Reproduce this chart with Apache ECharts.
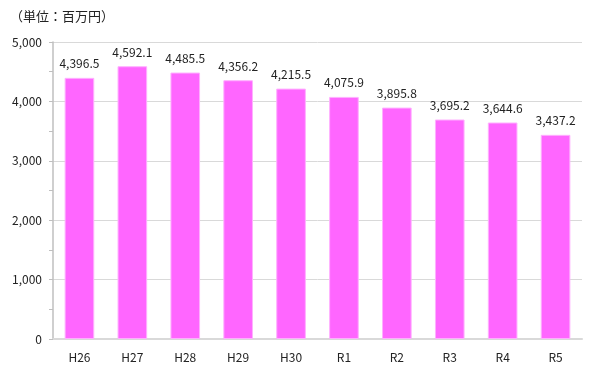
<!DOCTYPE html>
<html><head><meta charset="utf-8">
<script src="https://cdn.jsdelivr.net/npm/echarts@6/dist/echarts.min.js"></script>
<style>html,body{margin:0;padding:0;background:#fff}#c{width:600px;height:375px}</style>
</head><body><div id="c"></div>
<script>
const categories = ['H26','H27','H28','H29','H30','R1','R2','R3','R4','R5'];
const values = [4396.5, 4592.1, 4485.5, 4356.2, 4215.5, 4075.9, 3895.8, 3695.2, 3644.6, 3437.2];
const yTicks = [0, 1000, 2000, 3000, 4000, 5000];
const unitLabel = '（単位：百万円）';

const fmt = v => v.toLocaleString('en-US', {minimumFractionDigits: 1, maximumFractionDigits: 1});
const fmtInt = v => v.toLocaleString('en-US');
const font = '"Noto Sans CJK JP", "Noto Sans", sans-serif';

const chart = echarts.init(document.getElementById('c'), null, {renderer: 'canvas'});
chart.setOption({
  animation: false,
  textStyle: {fontFamily: font},
  title: {
    text: unitLabel, left: 5, top: 5,
    textStyle: {fontSize: 13, fontWeight: 'normal', color: '#222', fontFamily: font}
  },
  grid: {left: 53, right: 18, top: 42, bottom: 36, containLabel: false},
  xAxis: {
    type: 'category', data: categories,
    axisLine: {show: true, lineStyle: {color: '#D9D9D9', width: 2}},
    axisTick: {show: false},
    axisLabel: {color: '#222', fontSize: 12, margin: 12, fontFamily: font}
  },
  yAxis: {
    type: 'value', min: yTicks[0], max: yTicks[yTicks.length - 1], interval: 1000,
    axisLine: {show: true, lineStyle: {color: '#BFBFBF', width: 1.5}},
    axisTick: {show: true, length: 4, lineStyle: {color: '#BFBFBF'}},
    minorTick: {show: true, splitNumber: 2, length: 4, lineStyle: {color: '#BFBFBF'}},
    splitLine: {show: true, lineStyle: {color: '#D9D9D9', width: 1}},
    axisLabel: {color: '#222', fontSize: 12, margin: 11, formatter: v => fmtInt(v), fontFamily: font}
  },
  series: [{
    type: 'bar', data: values, barWidth: '56%',
    itemStyle: {color: '#FF66FF', borderColor: '#FFB0FF', borderWidth: 1},
    label: {show: true, position: 'top', distance: 8, color: '#222', fontSize: 12, formatter: p => fmt(p.value), fontFamily: font}
  }]
});
</script></body></html>
